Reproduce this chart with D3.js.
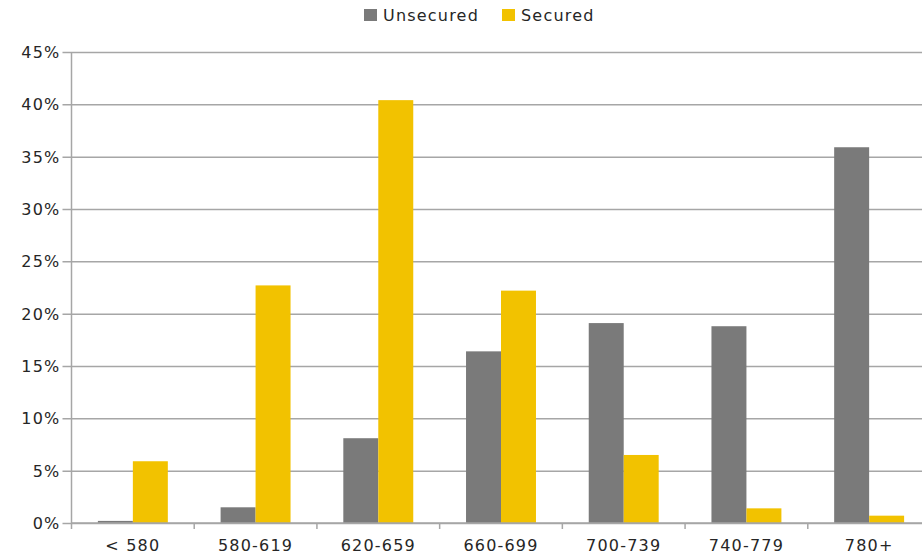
<!DOCTYPE html>
<html>
<head>
<meta charset="utf-8">
<script src="https://cdn.jsdelivr.net/npm/d3@7"></script>
<style>
  html, body { margin: 0; padding: 0; background: #fff; }
  svg { display: block; }
  text { font-family: "DejaVu Sans", Verdana, sans-serif; fill: #262626; }
</style>
</head>
<body>
<svg id="chart" width="922" height="556"></svg>
<script>
// Credit score bands and share of loans in each band
const categories = ["< 580", "580-619", "620-659", "660-699", "700-739", "740-779", "780+"];
const seriesNames = ["Unsecured", "Secured"];
const unsecured = [0.002, 0.015, 0.081, 0.164, 0.191, 0.188, 0.359];
const secured   = [0.059, 0.227, 0.404, 0.222, 0.065, 0.014, 0.007];
const yTicks = [0, 0.05, 0.10, 0.15, 0.20, 0.25, 0.30, 0.35, 0.40, 0.45];
const colors = ["#7a7a7a", "#f2c200"];

const svg = d3.select("#chart");
const plotLeft = 71.5, plotRight = 930.5, plotTop = 52, plotBottom = 523;

const x0 = d3.scaleBand().domain(categories).range([plotLeft, plotRight]).padding(0);
const bw = x0.bandwidth();
const x1 = d3.scaleBand().domain(seriesNames).range([bw * 0.215, bw * 0.785]).padding(0);
const y = d3.scaleLinear().domain([0, 0.45]).range([plotBottom, plotTop]);

// horizontal gridlines with value labels
const yAxis = d3.axisLeft(y).tickValues(yTicks).tickFormat(d3.format(".0%"))
  .tickSize(-(plotRight - plotLeft)).tickPadding(11);
const gy = svg.append("g").attr("transform", `translate(${plotLeft},0)`).call(yAxis);
gy.select(".domain").remove();
gy.selectAll(".tick line").attr("x1", -9).attr("stroke", "#a6a6a6").attr("stroke-width", 1.5);
gy.selectAll(".tick text").attr("font-size", 16).attr("letter-spacing", 1.2)
  .attr("fill", "#262626").attr("dy", "0.35em");

// vertical axis line
svg.append("line").attr("x1", plotLeft).attr("x2", plotLeft).attr("y1", plotTop).attr("y2", plotBottom + 6)
  .attr("stroke", "#a6a6a6").attr("stroke-width", 1.5);

// bars
const rows = categories.map((c, i) => ({ cat: c, vals: [unsecured[i], secured[i]] }));
const groups = svg.append("g").selectAll("g").data(rows).join("g")
  .attr("transform", d => `translate(${x0(d.cat)},0)`);
groups.selectAll("rect").data(d => d.vals.map((v, j) => ({ s: seriesNames[j], v, j })))
  .join("rect")
  .attr("x", d => x1(d.s))
  .attr("width", x1.bandwidth())
  .attr("y", d => y(d.v))
  .attr("height", d => y(0) - y(d.v))
  .attr("fill", d => colors[d.j]);

// category axis
const xAxis = d3.axisBottom(x0).tickSize(0).tickPadding(17);
const gx = svg.append("g").attr("transform", `translate(0,${plotBottom})`).call(xAxis);
gx.select(".domain").remove();
gx.selectAll(".tick text").attr("font-size", 16).attr("letter-spacing", 1.2).attr("fill", "#262626");
svg.append("line").attr("x1", plotLeft).attr("x2", plotRight).attr("y1", plotBottom).attr("y2", plotBottom)
  .attr("stroke", "#a6a6a6").attr("stroke-width", 1.5);
svg.append("g").selectAll("line").data(categories)
  .join("line")
  .attr("x1", d => x0(d) + bw).attr("x2", d => x0(d) + bw)
  .attr("y1", plotBottom).attr("y2", plotBottom + 6)
  .attr("stroke", "#a6a6a6").attr("stroke-width", 1.5);

// legend
const legendX = [364, 502];
const lg = svg.append("g").selectAll("g").data(seriesNames).join("g")
  .attr("transform", (d, i) => `translate(${legendX[i]},0)`);
lg.append("rect").attr("x", 0).attr("y", 9).attr("width", 13).attr("height", 12)
  .attr("fill", (d, i) => colors[i]);
lg.append("text").attr("x", 19).attr("y", 21).attr("font-size", 16).attr("letter-spacing", 1.2)
  .text(d => d);
</script>
</body>
</html>
